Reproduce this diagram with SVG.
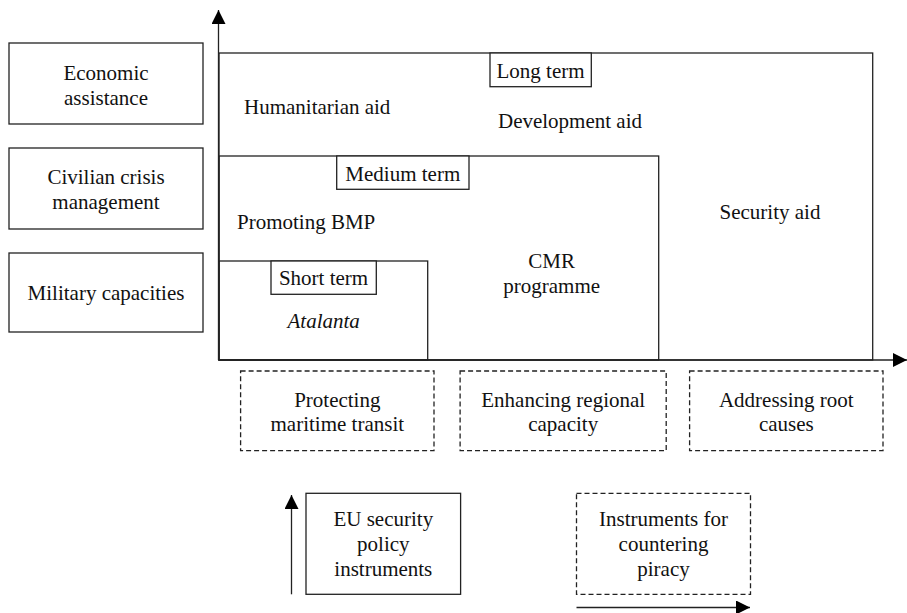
<svg xmlns="http://www.w3.org/2000/svg" width="907" height="613" viewBox="0 0 907 613">
<defs>
<style>
text{font-family:"Liberation Serif","Times New Roman",serif;font-size:21px;fill:#111;}
.c{text-anchor:middle;}
.box{fill:none;stroke:#222;stroke-width:1.3;}
.dash{fill:none;stroke:#222;stroke-width:1.3;stroke-dasharray:5 3;}
.ln{fill:none;stroke:#222;stroke-width:1.3;}
.lab{fill:#fff;stroke:#222;stroke-width:1.3;}
</style>
<marker id="ah" viewBox="0 0 14 14" refX="14" refY="7" markerWidth="14" markerHeight="14" markerUnits="userSpaceOnUse" orient="auto">
<path d="M0,0 L14,7 L0,14 Z" fill="#000"/>
</marker>
</defs>
<rect width="907" height="613" fill="#fff"/>

<g id="economic-assistance">
<rect class="box" x="9" y="43" width="194" height="81"/>
<text class="c" x="106" y="80">Economic</text>
<text class="c" x="106" y="105">assistance</text>
</g>
<g id="civilian-crisis">
<rect class="box" x="9" y="148" width="194" height="81"/>
<text class="c" x="106" y="184">Civilian crisis</text>
<text class="c" x="106" y="209">management</text>
</g>
<g id="military">
<rect class="box" x="9" y="253" width="194" height="79"/>
<text class="c" x="106" y="300">Military capacities</text>
</g>

<g id="long-term-region">
<rect class="box" x="219" y="53" width="653.7" height="307"/>
<rect class="lab" x="490" y="53" width="101.3" height="33.7"/>
<text class="c" x="540.5" y="78">Long term</text>
<text x="244" y="114">Humanitarian aid</text>
<text class="c" x="570" y="128">Development aid</text>
<text class="c" x="770" y="219">Security aid</text>
</g>
<g id="medium-term-region">
<rect class="box" x="219" y="156" width="439.7" height="204"/>
<rect class="lab" x="336.7" y="156" width="132.3" height="33.3"/>
<text class="c" x="402.8" y="181">Medium term</text>
<text x="237" y="229">Promoting BMP</text>
<text class="c" x="551.7" y="268">CMR</text>
<text class="c" x="551.7" y="293">programme</text>
</g>
<g id="short-term-region">
<rect class="box" x="219" y="261" width="208.7" height="99"/>
<rect class="lab" x="271" y="261" width="105.3" height="33.3"/>
<text class="c" x="323.5" y="285">Short term</text>
<text class="c" x="323.7" y="328" font-style="italic">Atalanta</text>
</g>

<g id="protecting">
<rect class="dash" x="240.6" y="371" width="193.4" height="79.7"/>
<text class="c" x="337.3" y="407">Protecting</text>
<text class="c" x="337.3" y="431">maritime transit</text>
</g>
<g id="enhancing">
<rect class="dash" x="460.1" y="371" width="206.1" height="79.7"/>
<text class="c" x="563.2" y="407">Enhancing regional</text>
<text class="c" x="563.2" y="431">capacity</text>
</g>
<g id="addressing">
<rect class="dash" x="689.6" y="371" width="193.4" height="79.7"/>
<text class="c" x="786.3" y="407">Addressing root</text>
<text class="c" x="786.3" y="431">causes</text>
</g>

<g id="legend-eu">
<rect class="box" x="306" y="493.3" width="154.6" height="101"/>
<text class="c" x="383.3" y="526">EU security</text>
<text class="c" x="383.3" y="551">policy</text>
<text class="c" x="383.3" y="576">instruments</text>
</g>
<g id="legend-instruments">
<rect class="dash" x="576.5" y="493.3" width="174" height="101"/>
<text class="c" x="663.5" y="526">Instruments for</text>
<text class="c" x="663.5" y="551">countering</text>
<text class="c" x="663.5" y="576">piracy</text>
</g>

<g id="connectors">
<line class="ln" x1="218.5" y1="360" x2="218.5" y2="10" marker-end="url(#ah)"/>
<line class="ln" x1="218.5" y1="360" x2="907" y2="360" marker-end="url(#ah)"/>
<line class="ln" x1="291.5" y1="594.3" x2="291.5" y2="495" marker-end="url(#ah)"/>
<line class="ln" x1="576.5" y1="607.5" x2="750" y2="607.5" marker-end="url(#ah)"/>
</g>
</svg>
